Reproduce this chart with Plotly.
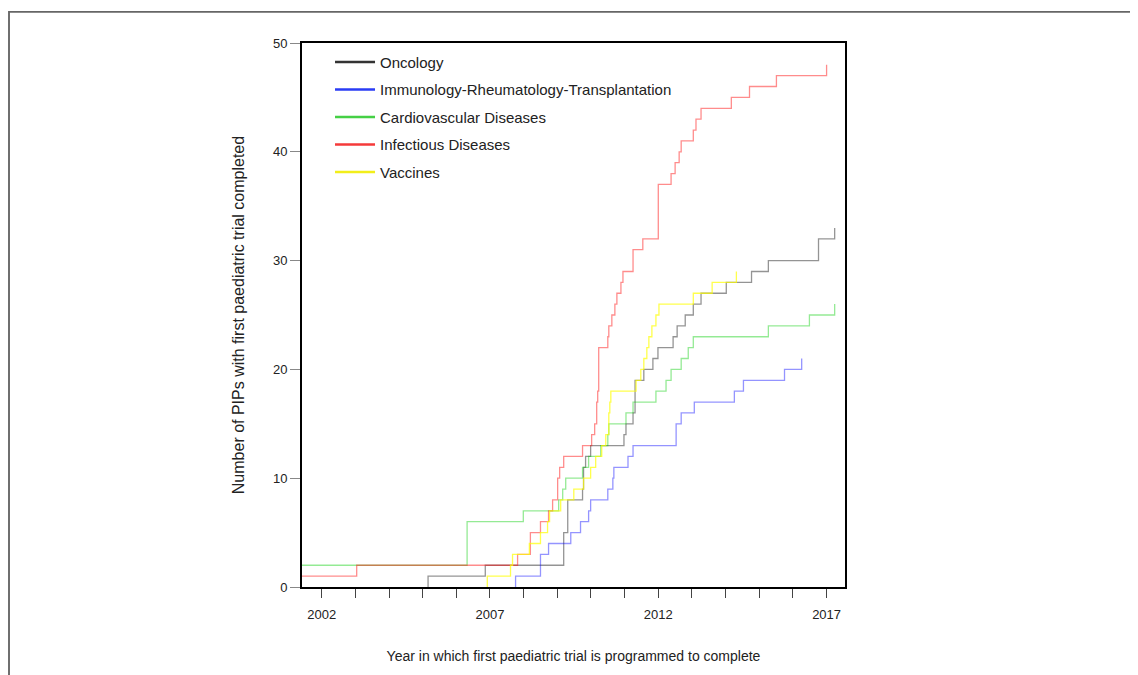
import plotly.graph_objects as go

# ---------------- data ----------------
onc_x = [2005.16, 2005.16, 2006.86, 2009.19, 2009.31, 2009.75, 2009.78, 2009.84, 2009.99,
         2010.98, 2011.04, 2011.25, 2011.31, 2011.57, 2011.84, 2011.99, 2012.44, 2012.56,
         2012.80, 2013.04, 2013.27, 2014.02, 2014.77, 2015.27, 2016.76, 2017.24]
onc_y = [0, 1, 2, 5, 8, 9, 11, 12, 13, 14, 15, 16, 19, 20, 21, 22, 23, 24, 25, 26, 27, 28,
         29, 30, 32, 33]

imm_x = [2007.76, 2007.76, 2008.50, 2008.74, 2009.40, 2009.69, 2009.93, 2009.99, 2010.50,
         2010.65, 2010.68, 2011.10, 2011.25, 2012.53, 2012.68, 2013.07, 2014.26, 2014.53,
         2015.75, 2016.26]
imm_y = [0, 1, 3, 4, 5, 6, 7, 8, 9, 10, 11, 12, 13, 15, 16, 17, 18, 19, 20, 21]

cvd_x = [2001.0, 2006.32, 2007.99, 2009.04, 2009.16, 2009.25, 2009.75, 2009.93, 2010.29,
         2010.50, 2010.53, 2011.04, 2011.25, 2011.93, 2012.23, 2012.38, 2012.68, 2012.89,
         2013.04, 2015.27, 2016.49, 2017.24]
cvd_y = [2, 6, 7, 8, 9, 10, 11, 12, 13, 14, 15, 16, 17, 18, 19, 20, 21, 22, 23, 24, 25, 26]

inf_x = [2001.0, 2003.04, 2007.82, 2008.20, 2008.50, 2008.74, 2008.86, 2009.01, 2009.07,
         2009.19, 2009.75, 2010.02, 2010.11, 2010.17, 2010.20, 2010.23, 2010.50, 2010.53,
         2010.62, 2010.71, 2010.77, 2010.89, 2010.95, 2011.25, 2011.54, 2012.00, 2012.38,
         2012.50, 2012.62, 2012.68, 2013.04, 2013.12, 2013.27, 2014.17, 2014.71, 2015.51,
         2017.00]
inf_y = [1, 2, 3, 5, 6, 7, 8, 10, 11, 12, 13, 14, 15, 17, 18, 22, 23, 24, 25, 26, 27, 28,
         29, 31, 32, 37, 38, 39, 40, 41, 42, 43, 44, 45, 46, 47, 48]

vac_x = [2006.92, 2006.92, 2007.61, 2007.67, 2008.17, 2008.50, 2008.71, 2008.77, 2009.10,
         2009.49, 2009.78, 2009.99, 2010.14, 2010.32, 2010.44, 2010.53, 2010.56, 2010.59,
         2011.34, 2011.48, 2011.57, 2011.66, 2011.72, 2011.81, 2011.93, 2012.02, 2013.04,
         2013.60, 2014.32]
vac_y = [0, 1, 2, 3, 4, 5, 6, 7, 8, 9, 10, 11, 12, 13, 14, 16, 17, 18, 19, 20, 21, 22, 23,
         24, 25, 26, 27, 28, 29]

series_names = ["Oncology", "Immunology-Rheumatology-Transplantation",
                "Cardiovascular Diseases", "Infectious Diseases", "Vaccines"]
series_x = [onc_x, imm_x, cvd_x, inf_x, vac_x]
series_y = [onc_y, imm_y, cvd_y, inf_y, vac_y]
line_colors = ["rgba(0,0,0,0.42)", "rgba(0,0,255,0.42)", "rgba(0,205,0,0.42)",
               "rgba(255,0,0,0.45)", "rgba(255,255,0,0.7)"]
legend_colors = ["#333333", "#2a3cf5", "#45d045", "#f53a3a", "#f2ee1a"]

year_ticks = list(range(2002, 2018))
year_labels = ["2002", "2007", "2012", "2017"]
y_ticks = [0, 10, 20, 30, 40, 50]
ref_years = [2007, 2012]

fig = go.Figure()

for yr in ref_years:
    fig.add_vline(x=yr, line=dict(color="#c9c9c9", width=1.5), layer="below")

for name, xs, ys, col in zip(series_names, series_x, series_y, line_colors):
    fig.add_trace(go.Scatter(x=xs, y=ys, mode="lines", line=dict(color=col, width=1.3, shape="hv"),
                             showlegend=False, hoverinfo="skip"))

for i, (name, col) in enumerate(zip(series_names, legend_colors)):
    fig.add_trace(go.Scatter(x=[None], y=[None], mode="lines", name=name,
                             line=dict(color=col, width=2.5), legendgroup=f"g{i}"))

font_family = "Liberation Sans, Arial, Helvetica, sans-serif"

fig.update_layout(
    width=1130, height=667,
    margin=dict(l=294, r=293, t=35, b=88, autoexpand=False),
    paper_bgcolor="white", plot_bgcolor="white",
    font=dict(family=font_family, size=13, color="#222222"),
    showlegend=True,
    legend=dict(x=0.0516, y=0.995, xanchor="left", yanchor="top", bgcolor="rgba(0,0,0,0)",
                font=dict(size=15, color="#222222"), tracegroupgap=5, itemwidth=40),
    xaxis=dict(range=[2001.415, 2017.547], showgrid=False, zeroline=False, automargin=False,
               tickmode="array", tickvals=[int(v) for v in year_labels], ticktext=year_labels,
               ticks="outside", ticklen=9, tickcolor="#444444", tickwidth=1,
               tickfont=dict(size=13),
               minor=dict(tickmode="array", tickvals=year_ticks, ticks="outside", ticklen=9,
                          tickcolor="#444444", tickwidth=1, showgrid=False),
               showline=True, linecolor="black", linewidth=2, mirror=True,
               ticklabelstandoff=5,
               title=dict(text="Year in which first paediatric trial is programmed to complete",
                          standoff=31, font=dict(size=14))),
    yaxis=dict(range=[0, 50], showgrid=False, zeroline=False, automargin=False,
               tickmode="array", tickvals=y_ticks, tickfont=dict(size=13),
               ticks="outside", ticklen=10, tickcolor="#888888", tickwidth=1,
               showline=True, linecolor="black", linewidth=2, mirror=True,
               title=dict(text="Number of PIPs with first paediatric trial completed",
                          standoff=24, font=dict(size=16))),
    shapes=[dict(type="rect", xref="paper", yref="paper", x0=-0.5396, x1=1.58,
                 y0=-0.23, y1=1.0575, line=dict(color="#666666", width=1.5),
                 fillcolor="rgba(0,0,0,0)", layer="below")],
)

fig.write_html("out.html")
